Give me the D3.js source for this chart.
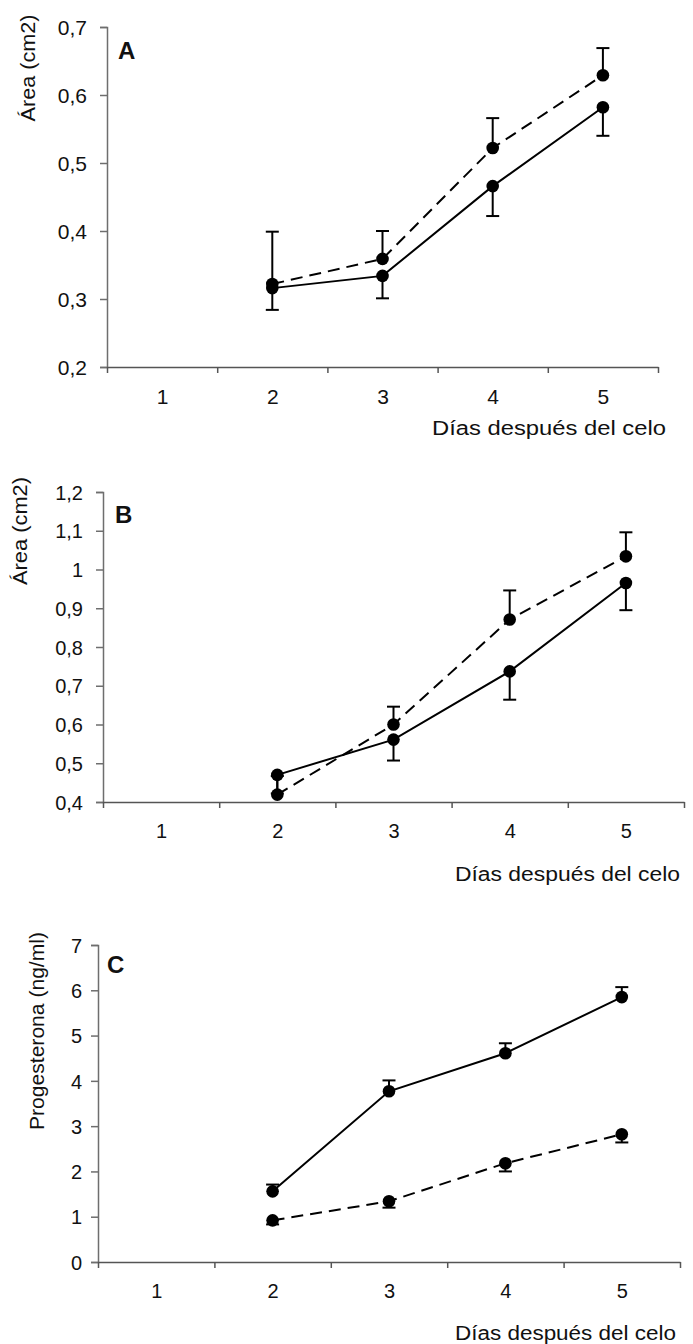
<!DOCTYPE html>
<html>
<head>
<meta charset="utf-8">
<script src="https://cdn.jsdelivr.net/npm/d3@7"></script>
<style>
  body { margin: 0; background: #fff; }
  svg text { font-family: Arial, "Liberation Sans", sans-serif; fill: #111; }
</style>
</head>
<body>
<div id="chart"></div>
<script>
// categories (días después del celo)
const days = [1, 2, 3, 4, 5];

// panel A - área (cm2)
const solidA = [null, 0.316, 0.334, 0.466, 0.582];
const solidALow = [null, 0.284, 0.301, 0.422, 0.540];
const dashedA = [null, 0.322, 0.359, 0.522, 0.629];
const dashedAHigh = [null, 0.399, 0.400, 0.566, 0.669];
const ticksA = [0.2, 0.3, 0.4, 0.5, 0.6, 0.7];

// panel B - área (cm2)
const solidB = [null, 0.470, 0.561, 0.737, 0.965];
const solidBLow = [null, 0.422, 0.507, 0.664, 0.895];
const dashedB = [null, 0.419, 0.600, 0.871, 1.034];
const dashedBHigh = [null, 0.467, 0.646, 0.946, 1.096];
const ticksB = [0.4, 0.5, 0.6, 0.7, 0.8, 0.9, 1.0, 1.1, 1.2];

// panel C - progesterona (ng/ml)
const solidC = [null, 1.56, 3.77, 4.61, 5.85];
const solidCHigh = [null, 1.71, 4.01, 4.83, 6.07];
const dashedC = [null, 0.92, 1.34, 2.18, 2.82];
const dashedCLow = [null, 0.83, 1.20, 2.00, 2.64];
const ticksC = [0, 1, 2, 3, 4, 5, 6, 7];

const svg = d3.select('#chart').append('svg')
  .attr('width', 693)
  .attr('height', 1344);

const fmt = v => String(+v.toFixed(1)).replace('.', ',');

function drawPanel(p) {
  const x = d3.scaleLinear().domain([0.5, 5.5]).range([p.left, p.right]);
  const y = d3.scaleLinear().domain(p.domain).range([p.bottom, p.top]);
  const g = svg.append('g');

  // y axis
  const yAxis = g.append('g')
    .attr('transform', `translate(${p.left},0)`)
    .call(d3.axisLeft(y).tickValues(p.ticks).tickSize(7).tickPadding(p.ypad).tickFormat(fmt));
  yAxis.select('.domain').attr('stroke', '#6e6e6e').attr('stroke-width', 1.5);
  yAxis.selectAll('.tick line').attr('stroke', '#6e6e6e').attr('stroke-width', 1.5);
  yAxis.selectAll('.tick text').attr('font-size', p.fs).attr('dy', '0.36em');

  // x axis: tick marks between categories
  const xMarks = g.append('g')
    .attr('transform', `translate(0,${p.bottom})`)
    .call(d3.axisBottom(x).tickValues([0.5, 1.5, 2.5, 3.5, 4.5, 5.5]).tickSize(6).tickSizeOuter(0).tickFormat(''));
  xMarks.select('.domain').attr('stroke', '#555').attr('stroke-width', 1.5);
  xMarks.selectAll('.tick line').attr('stroke', '#555').attr('stroke-width', 1.5);

  // x axis labels centered on categories
  const xLabels = g.append('g')
    .attr('transform', `translate(0,${p.bottom})`)
    .call(d3.axisBottom(x).tickValues(days).tickSize(0).tickPadding(p.xpad).tickFormat(d3.format('d')));
  xLabels.select('.domain').remove();
  xLabels.selectAll('.tick text').attr('font-size', p.fs);

  // error bars
  const cap = 6.5;
  p.errors.forEach(e => {
    days.forEach((d, i) => {
      if (e.mean[i] == null) return;
      const cx = x(d), y1 = y(e.mean[i]), y2 = y(e.end[i]);
      g.append('line').attr('x1', cx).attr('x2', cx).attr('y1', y1).attr('y2', y2)
        .attr('stroke', '#000').attr('stroke-width', 2);
      g.append('line').attr('x1', cx - cap).attr('x2', cx + cap).attr('y1', y2).attr('y2', y2)
        .attr('stroke', '#000').attr('stroke-width', 2);
    });
  });

  // lines and markers
  p.series.forEach(s => {
    const pts = days.map((d, i) => ({ d, v: s.values[i] }));
    const line = d3.line()
      .defined(o => o.v != null)
      .x(o => x(o.d))
      .y(o => y(o.v));
    g.append('path')
      .datum(pts)
      .attr('d', line)
      .attr('fill', 'none')
      .attr('stroke', '#000')
      .attr('stroke-width', 2)
      .attr('stroke-dasharray', s.dashed ? '12,7' : null);
    g.selectAll(null)
      .data(pts.filter(o => o.v != null))
      .enter()
        .append('circle')
        .attr('cx', o => x(o.d))
        .attr('cy', o => y(o.v))
        .attr('r', 6.3)
        .attr('fill', '#000');
  });

  // panel letter
  g.append('text')
    .attr('x', p.letterX).attr('y', p.letterY)
    .attr('font-size', 24).attr('font-weight', 'bold')
    .text(p.letter);

  // y title
  g.append('text')
    .attr('transform', `translate(${p.ytX},${p.ytY}) rotate(-90)`)
    .attr('text-anchor', 'middle')
    .attr('dy', '0.35em')
    .attr('font-size', 20)
    .attr('textLength', p.ytLen)
    .attr('lengthAdjust', 'spacingAndGlyphs')
    .text(p.yTitle);

  // x title
  g.append('text')
    .attr('x', p.xtX).attr('y', p.xtY)
    .attr('font-size', 20)
    .attr('textLength', p.xtLen)
    .attr('lengthAdjust', 'spacingAndGlyphs')
    .text('Días después del celo');
}

drawPanel({
  left: 107, right: 658, top: 27, bottom: 367,
  domain: [0.2, 0.7], ticks: ticksA, fs: 21, ypad: 13, xpad: 22,
  errors: [{ mean: solidA, end: solidALow }, { mean: dashedA, end: dashedAHigh }],
  series: [{ values: solidA, dashed: false }, { values: dashedA, dashed: true }],
  letter: 'A', letterX: 118, letterY: 59,
  yTitle: 'Área (cm2)', ytX: 28, ytY: 68, ytLen: 107,
  xtX: 432, xtY: 435, xtLen: 234
});

drawPanel({
  left: 103, right: 684, top: 492, bottom: 802,
  domain: [0.4, 1.2], ticks: ticksB, fs: 20, ypad: 13, xpad: 22,
  errors: [{ mean: solidB, end: solidBLow }, { mean: dashedB, end: dashedBHigh }],
  series: [{ values: solidB, dashed: false }, { values: dashedB, dashed: true }],
  letter: 'B', letterX: 115, letterY: 523,
  yTitle: 'Área (cm2)', ytX: 20, ytY: 531, ytLen: 108,
  xtX: 455, xtY: 881, xtLen: 225
});

drawPanel({
  left: 98, right: 680, top: 945, bottom: 1262,
  domain: [0, 7], ticks: ticksC, fs: 20, ypad: 9, xpad: 22,
  errors: [{ mean: solidC, end: solidCHigh }, { mean: dashedC, end: dashedCLow }],
  series: [{ values: solidC, dashed: false }, { values: dashedC, dashed: true }],
  letter: 'C', letterX: 107, letterY: 973,
  yTitle: 'Progesterona (ng/ml)', ytX: 37, ytY: 1031, ytLen: 198,
  xtX: 455, xtY: 1340, xtLen: 221
});
</script>
</body>
</html>
